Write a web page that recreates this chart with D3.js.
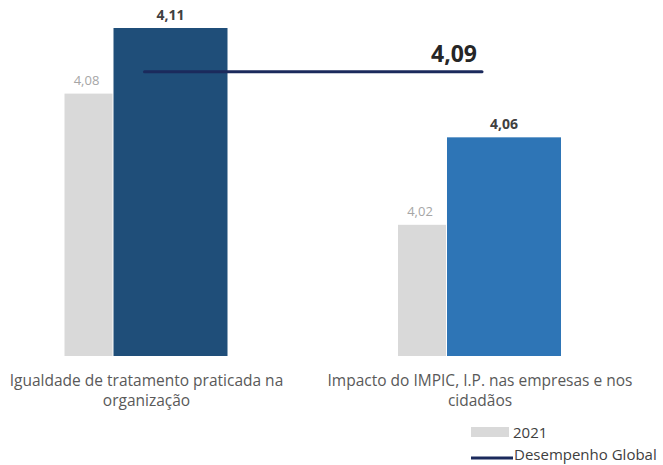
<!DOCTYPE html>
<html>
<head>
<meta charset="utf-8">
<script src="https://cdn.jsdelivr.net/npm/d3@7"></script>
<style>
  body { margin: 0; background: #fff; }
  svg { display: block; font-family: "Open Sans", "Noto Sans", sans-serif; }
</style>
</head>
<body>
<svg id="chart" width="663" height="465"></svg>
<script>
// data
const categories = [
    ["Igualdade de tratamento praticada na", "organização"],
    ["Impacto do IMPIC, I.P. nas empresas e nos", "cidadãos"]
];
const values2021 = [4.08, 4.02];
const valuesCurrent = [4.11, 4.06];
const globalPerformance = 4.09;
const currentColors = ["#1f4e79", "#2e75b6"];
const legendLabels = ["2021", "Desempenho Global"];

const width = 663, height = 465;
const svg = d3.select("#chart");

const keys = categories.map((d, i) => i);

const x = d3.scalePoint()
    .domain(keys)
    .range([146.5, 480]);

const y = d3.scaleLinear()
    .domain([3.96, 4.11])
    .range([356, 28]);

const fmt = v => d3.format(".2f")(v).replace(".", ",");

// grey bars (2021)
svg.append("g")
    .selectAll("rect")
    .data(values2021)
    .join("rect")
    .attr("x", (d, i) => x(i) - 82)
    .attr("y", d => y(d))
    .attr("width", 48)
    .attr("height", d => y.range()[0] - y(d))
    .attr("fill", "#d9d9d9");

// current bars
svg.append("g")
    .selectAll("rect")
    .data(valuesCurrent)
    .join("rect")
    .attr("x", (d, i) => x(i) - 33)
    .attr("y", d => y(d))
    .attr("width", 114)
    .attr("height", d => y.range()[0] - y(d))
    .attr("fill", (d, i) => currentColors[i]);

// labels 2021
svg.append("g")
    .selectAll("text")
    .data(values2021)
    .join("text")
    .attr("x", (d, i) => x(i) - 60)
    .attr("y", d => y(d) - 9)
    .attr("text-anchor", "middle")
    .attr("font-size", 13)
    .attr("fill", "#a6a6a6")
    .text(fmt);

// labels current
svg.append("g")
    .selectAll("text")
    .data(valuesCurrent)
    .join("text")
    .attr("x", (d, i) => x(i) + 24)
    .attr("y", d => y(d) - 8)
    .attr("text-anchor", "middle")
    .attr("font-size", 14)
    .attr("font-weight", "bold")
    .attr("fill", "#404040")
    .text(fmt);

// global performance line
svg.append("line")
    .attr("x1", x(0) - 2)
    .attr("x2", x(1) + 2)
    .attr("y1", y(globalPerformance))
    .attr("y2", y(globalPerformance))
    .attr("stroke", "#1b2a5c")
    .attr("stroke-width", 3)
    .attr("stroke-linecap", "round");

svg.append("text")
    .attr("x", x(1) - 3)
    .attr("y", y(globalPerformance) - 10)
    .attr("text-anchor", "end")
    .attr("font-size", 23)
    .attr("font-weight", "bold")
    .attr("fill", "#262626")
    .text(fmt(globalPerformance));

// category labels
const catLabels = svg.append("g")
    .selectAll("text")
    .data(categories)
    .join("text")
    .attr("x", (d, i) => x(i))
    .attr("y", 386)
    .attr("text-anchor", "middle")
    .attr("font-size", 15.5)
    .attr("fill", "#595959");

catLabels.selectAll("tspan")
    .data(d => d)
    .join("tspan")
    .attr("x", function () { return d3.select(this.parentNode).attr("x"); })
    .attr("dy", (d, i) => i === 0 ? 0 : 20)
    .text(d => d);

// legend
const legend = svg.append("g").attr("transform", "translate(471,0)");
legend.append("rect")
    .attr("x", 0).attr("y", 427)
    .attr("width", 38).attr("height", 10)
    .attr("fill", "#d9d9d9");
legend.append("text")
    .attr("x", 42).attr("y", 438)
    .attr("font-size", 15)
    .attr("fill", "#404040")
    .text(legendLabels[0]);
legend.append("line")
    .attr("x1", 0).attr("x2", 42)
    .attr("y1", 458).attr("y2", 458)
    .attr("stroke", "#1b2a5c")
    .attr("stroke-width", 3);
legend.append("text")
    .attr("x", 43).attr("y", 460)
    .attr("font-size", 15)
    .attr("fill", "#404040")
    .text(legendLabels[1]);
</script>
</body>
</html>
